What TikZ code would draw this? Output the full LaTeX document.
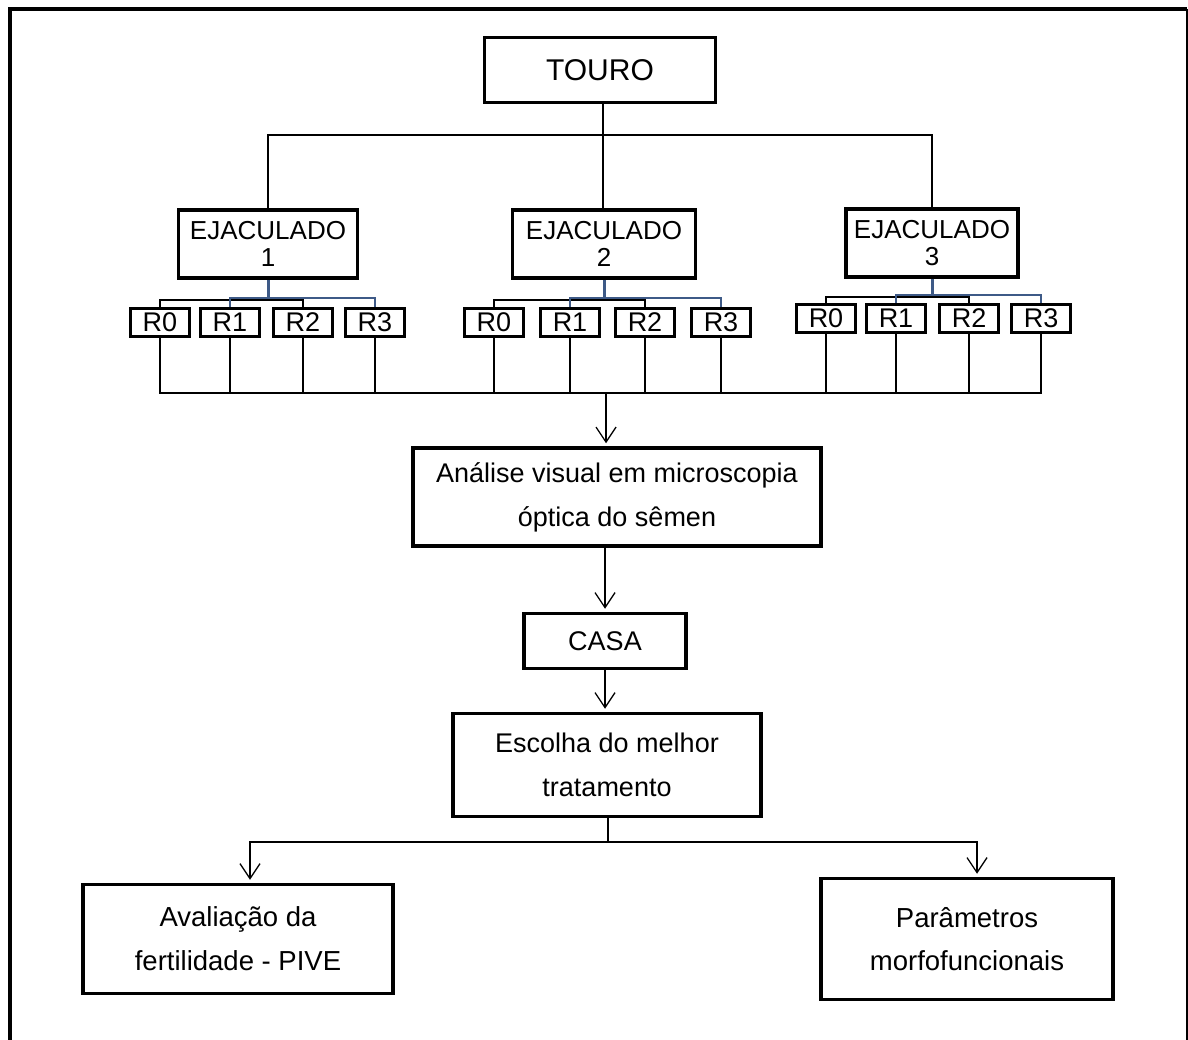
\documentclass[tikz,border=0pt]{standalone}
\usepackage{fontspec}
\setmainfont{Liberation Sans}
\usepackage{tikz}
\usetikzlibrary{arrows.meta, calc}
\definecolor{myblue}{RGB}{62, 90, 135}
\tikzset{>={Straight Barb[length = 15pt, width = 20pt]}}
\tikzset{box/.style = {draw, line width = 3.5pt, inner sep = 0pt, align = center},
  rbox/.style = {box, line width = 3pt, minimum width = 59pt, minimum height = 28pt, font = \fontsize{27}{28}\selectfont},
  ejbox/.style = {box, minimum height = 68pt, font = \fontsize{26}{27}\selectfont},
  link/.style = {line width = 1.3pt}}

\begin{document}
\begin{tikzpicture}[x = 1pt, y = -1pt]
\useasboundingbox (0, 0) rectangle (1188, 1039);

% frame, open at the bottom
\draw[line width = 3.5pt] (10, 1045) -- (10, 9) -- (1187, 9);
\draw[line width = 2pt] (1187, 9) -- (1187, 1045);

\node[box, minimum width = 231pt, minimum height = 65pt, font = \fontsize{30}{31}\selectfont] (touro) at (600, 70) {TOURO};

\node[ejbox, minimum width = 179pt] (ej1) at (268, 244) {EJACULADO\\1};
\node[ejbox, minimum width = 183pt] (ej2) at (604, 244) {EJACULADO\\2};
\node[ejbox, minimum width = 172pt] (ej3) at (932, 243) {EJACULADO\\3};

\coordinate (top) at (603, 135);
\draw[link] (touro.south -| top) -- (top);
\draw[link] (ej1.north) |- (top) -| (ej3.north);
\draw[link] (top) -- (ej2.north -| top);

% replicates
\node[rbox] (r10) at (160, 322) {R0};
\node[rbox] (r11) at (230, 322) {R1};
\node[rbox] (r12) at (303, 322) {R2};
\node[rbox] (r13) at (375, 322) {R3};

\node[rbox] (r20) at (494, 322) {R0};
\node[rbox] (r21) at (570, 322) {R1};
\node[rbox] (r22) at (645, 322) {R2};
\node[rbox] (r23) at (721, 322) {R3};

\node[rbox] (r30) at (826, 318) {R0};
\node[rbox] (r31) at (896, 318) {R1};
\node[rbox] (r32) at (969, 318) {R2};
\node[rbox] (r33) at (1041, 318) {R3};

\coordinate (k1) at (268, 300);
\coordinate (b1) at (268, 298);
\coordinate (k2) at (604, 300);
\coordinate (b2) at (604, 298);
\coordinate (k3) at (932, 297);
\coordinate (b3) at (932, 295);

\draw[link] (r10.north) |- (k1) -| (r12.north);
\draw[myblue, line width = 2.2pt] (r11.north) |- (b1) -| (r13.north);
\draw[myblue, line width = 3pt] (ej1.south) -- (b1);

\draw[link] (r20.north) |- (k2) -| (r22.north);
\draw[myblue, line width = 2.2pt] (r21.north) |- (b2) -| (r23.north);
\draw[myblue, line width = 3pt] (ej2.south) -- (b2);

\draw[link] (r30.north) |- (k3) -| (r32.north);
\draw[myblue, line width = 2.2pt] (r31.north) |- (b3) -| (r33.north);
\draw[myblue, line width = 3pt] (ej3.south) -- (b3);

% collecting line
\coordinate (collect) at (606, 393);
\draw[link] (r10.south) |- (collect) -| (r33.south);
\draw[link] (r11.south) -- (r11.south |- collect);
\draw[link] (r12.south) -- (r12.south |- collect);
\draw[link] (r13.south) -- (r13.south |- collect);
\draw[link] (r20.south) -- (r20.south |- collect);
\draw[link] (r21.south) -- (r21.south |- collect);
\draw[link] (r22.south) -- (r22.south |- collect);
\draw[link] (r23.south) -- (r23.south |- collect);
\draw[link] (r30.south) -- (r30.south |- collect);
\draw[link] (r31.south) -- (r31.south |- collect);
\draw[link] (r32.south) -- (r32.south |- collect);

\node[box, minimum width = 408pt, minimum height = 98pt, font = \fontsize{27}{44}\selectfont] (analysis) at (617, 497) {Análise visual em microscopia\\óptica do sêmen};
\draw[link, ->, shorten > = 3pt] (collect) -- (collect |- analysis.north);

\node[box, minimum width = 162pt, minimum height = 55pt, font = \fontsize{27}{28}\selectfont] (casa) at (605, 641) {CASA};
\draw[link, ->, shorten > = 3pt] (analysis.south -| casa.north) -- (casa.north);

\node[box, minimum width = 308pt, minimum height = 103pt, font = \fontsize{27}{44}\selectfont] (escolha) at (607, 765) {Escolha do melhor\\tratamento};
\draw[link, ->, shorten > = 3pt] (casa.south) -- (casa.south |- escolha.north);

\node[box, minimum width = 310pt, minimum height = 109pt, font = \fontsize{27.5}{44}\selectfont] (fert) at (238, 939) {Avaliação da\\fertilidade - PIVE};
\node[box, minimum width = 292pt, minimum height = 121pt, font = \fontsize{27.5}{43}\selectfont] (param) at (967, 939) {Parâmetros\\morfofuncionais};

\coordinate (split) at (608, 842);
\draw[link] (escolha.south -| split) -- (split);
\draw[link, ->, shorten > = 3pt] (split) -| ([xshift = 12pt]fert.north);
\draw[link, ->, shorten > = 3pt] (split) -| ([xshift = 10pt]param.north);
\end{tikzpicture}
\end{document}
